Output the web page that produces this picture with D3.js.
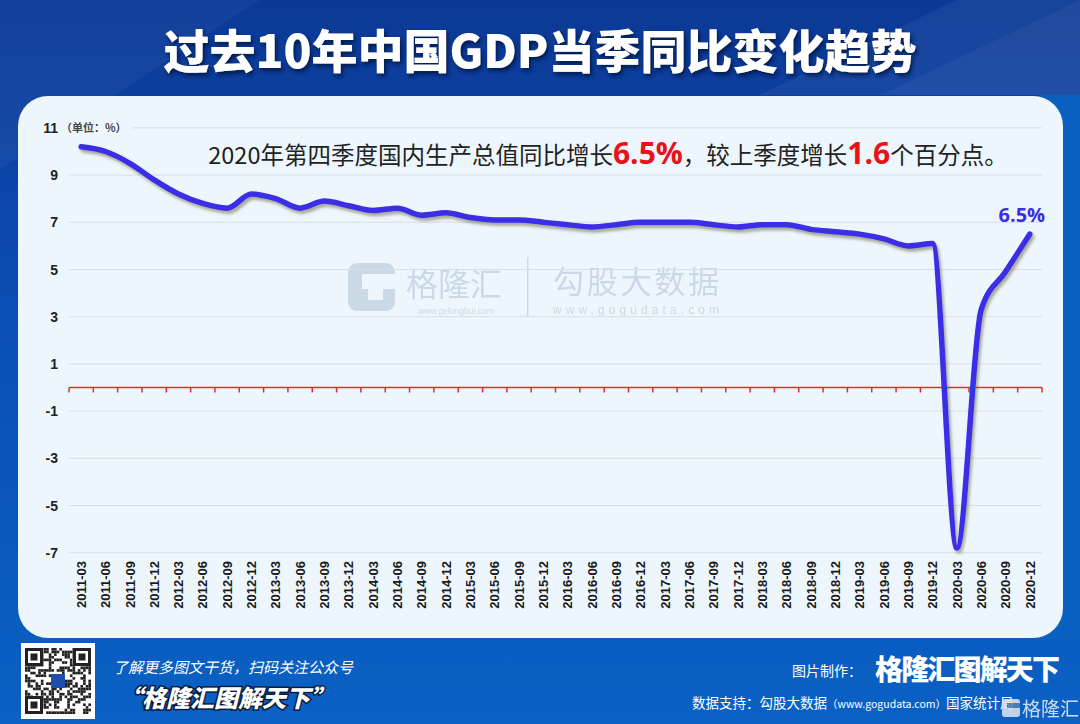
<!DOCTYPE html>
<html><head><meta charset="utf-8">
<script src="https://cdn.jsdelivr.net/npm/d3@7"></script>
<style>body{margin:0;background:#0a57b8;} svg{display:block}</style>
</head><body>
<svg id="c" width="1080" height="724"></svg>
<script>
// ---- data ----
const categories = [
 "2011-03","2011-06","2011-09","2011-12","2012-03","2012-06","2012-09","2012-12",
 "2013-03","2013-06","2013-09","2013-12","2014-03","2014-06","2014-09","2014-12",
 "2015-03","2015-06","2015-09","2015-12","2016-03","2016-06","2016-09","2016-12",
 "2017-03","2017-06","2017-09","2017-12","2018-03","2018-06","2018-09","2018-12",
 "2019-03","2019-06","2019-09","2019-12","2020-03","2020-06","2020-09","2020-12"];
const gdpValues = [
 10.2,10.0,9.5,8.8, 8.2,7.8,7.6,8.2,
 8.0,7.6,7.9,7.7, 7.5,7.6,7.3,7.4,
 7.2,7.1,7.1,7.0, 6.9,6.8,6.9,7.0,
 7.0,7.0,6.9,6.8, 6.9,6.9,6.7,6.6,
 6.5,6.3,6.0,6.1, -6.8,3.3,4.9,6.5];
const yTicks = [11,9,7,5,3,1,-1,-3,-5,-7];
const yDomain = [-7, 11];
const titleText = "过去10年中国GDP当季同比变化趋势";
const unitText = "（单位：%）";
const subtitleParts = [
 {t:"2020年第四季度国内生产总值同比增长", red:false},
 {t:"6.5%", red:true},
 {t:"，较上季度增长", red:false},
 {t:"1.6", red:true},
 {t:"个百分点。", red:false}];
const lastLabel = "6.5%";

const svg = d3.select("#c");
const W = 1080, H = 724;
const CJK = "'Noto Sans CJK SC','Noto Sans',sans-serif";
const ARIAL = "'Liberation Sans',Arial,sans-serif";

// ---- defs ----
const defs = svg.append("defs");
const bg = defs.append("linearGradient").attr("id","bg").attr("x1",0).attr("y1",0).attr("x2",0).attr("y2",1);
[[0,"#0b3995"],[0.13,"#0c3f9e"],[0.45,"#0b4fb6"],[1,"#0a61c3"]].forEach(s=>bg.append("stop").attr("offset",s[0]).attr("stop-color",s[1]));
const f1 = defs.append("filter").attr("id","ls").attr("x","-5%").attr("y","-5%").attr("width","110%").attr("height","110%");
f1.append("feDropShadow").attr("dx",2).attr("dy",3).attr("stdDeviation",1.6).attr("flood-color","#6b6a3c").attr("flood-opacity",0.55);
const f2 = defs.append("filter").attr("id","ts");
f2.append("feDropShadow").attr("dx",2).attr("dy",3).attr("stdDeviation",2).attr("flood-color","#001445").attr("flood-opacity",0.9);

// ---- background ----
svg.append("rect").attr("width",W).attr("height",H).attr("fill","url(#bg)");
svg.append("path").attr("d","M0,0 L260,0 L0,170 Z").attr("fill","#ffffff").attr("opacity",0.04);
svg.append("path").attr("d","M760,95 L1080,-60 L1080,95 Z").attr("fill","#ffffff").attr("opacity",0.05);
svg.append("path").attr("d","M880,95 L1080,0 L1080,95 Z").attr("fill","#ffffff").attr("opacity",0.04);
svg.append("rect").attr("x",1040).attr("y",95).attr("width",40).attr("height",545).attr("fill","#0a5fc0");

// title
svg.append("text").attr("x",540).attr("y",68).attr("text-anchor","middle")
  .attr("font-family",CJK).attr("font-weight",900).attr("font-size",46)
  .attr("fill","#ffffff").attr("filter","url(#ts)").text(titleText);

// panel
svg.append("rect").attr("x",18).attr("y",96).attr("width",1045).attr("height",542).attr("rx",30)
  .attr("fill","#eef6fd");

// ---- scales ----
const x = d3.scaleBand().domain(categories).range([69,1042]).padding(0);
const y = d3.scaleLinear().domain(yDomain).range([552.7,127.9]);
const cx = c => x(c) + x.bandwidth()/2;

// watermark
const wm = svg.append("g").attr("fill","#c6d3e3").attr("opacity",0.85);
wm.append("rect").attr("x",348).attr("y",263).attr("width",47).attr("height",48).attr("rx",9);
wm.append("path").attr("d","M362,274 L395,274 L395,289 L362,289 Z").attr("fill","#eef6fd");
wm.append("path").attr("d","M368,289 L383,289 L383,300 L368,300 Z").attr("fill","#eef6fd");
wm.append("text").attr("x",406).attr("y",296).attr("font-family",CJK).attr("font-size",32).text("格隆汇");
wm.append("text").attr("x",456).attr("y",314).attr("text-anchor","middle").attr("font-family",ARIAL).attr("font-size",8.5).text("www.gelonghui.com");
wm.append("rect").attr("x",527).attr("y",257).attr("width",1.5).attr("height",60);
wm.append("text").attr("x",553).attr("y",293).attr("font-family",CJK).attr("font-size",31).attr("textLength",166).text("勾股大数据");
wm.append("text").attr("x",553).attr("y",314).attr("font-family",ARIAL).attr("font-size",12).attr("textLength",166).text("www.gogudata.com");

// gridlines
svg.append("g").selectAll("line").data(yTicks).join("line")
  .attr("x1",69).attr("x2",1042).attr("y1",d=>y(d)).attr("y2",d=>y(d))
  .attr("stroke","#dadde2").attr("stroke-width",1);

// y labels
svg.append("g").selectAll("text").data(yTicks).join("text")
  .attr("x",58).attr("y",d=>y(d)+5).attr("text-anchor","end")
  .attr("font-family",ARIAL).attr("font-weight","bold").attr("font-size",14).attr("fill","#222")
  .text(d=>String(d));
svg.append("rect").attr("x",60).attr("y",y(11)-8).attr("width",72).attr("height",16).attr("fill","#eef6fd");
svg.append("text").attr("x",61).attr("y",y(11)+4).attr("font-family",CJK).attr("font-weight","bold")
  .attr("font-size",11).attr("fill","#444").text(unitText);

// zero line with ticks at band boundaries
const z = svg.append("g").attr("stroke","#ea2a2a").attr("stroke-width",1.5);
z.append("line").attr("x1",69).attr("x2",1042).attr("y1",y(0)).attr("y2",y(0));
const bounds = categories.map(c=>x(c)).concat([x.range()[1]]);
z.selectAll("line.t").data(bounds).join("line").attr("class","t")
  .attr("x1",d=>d).attr("x2",d=>d).attr("y1",y(0)).attr("y2",y(0)+5);

// x labels
svg.append("g").selectAll("text").data(categories).join("text")
  .attr("transform",d=>`translate(${cx(d)},561) rotate(-90)`)
  .attr("dy","0.36em").attr("text-anchor","end")
  .attr("font-family",ARIAL).attr("font-weight","bold").attr("font-size",13).attr("fill","#1a1a1a")
  .text(d=>d);

// line
const data = categories.map((c,i)=>({c, v:gdpValues[i]}));
const line = d3.line().x(d=>cx(d.c)).y(d=>y(d.v)).curve(d3.curveMonotoneX);
svg.append("path").datum(data).attr("d",line).attr("fill","none")
  .attr("stroke","#3b2de6").attr("stroke-width",5.5).attr("stroke-linecap","round").attr("stroke-linejoin","round")
  .attr("filter","url(#ls)");

// last value label
const last = data[data.length-1];
svg.append("text").attr("x",cx(last.c)-8).attr("y",y(last.v)-12).attr("text-anchor","middle")
  .attr("font-family","'Open Sans','Noto Sans',sans-serif").attr("font-weight","bold").attr("font-size",20)
  .attr("fill","#3b2de6").text(lastLabel);

// subtitle
const st = svg.append("text").attr("x",608).attr("y",164).attr("text-anchor","middle")
  .attr("font-family",CJK).attr("font-size",23.5).attr("fill","#222");
subtitleParts.forEach(p=>{
  const ts = st.append("tspan").text(p.t);
  if(p.red) ts.attr("fill","#e81218").attr("font-size",30).attr("font-weight","bold").attr("font-family","'Open Sans','Noto Sans',sans-serif");
});

// ---- footer ----
const qr = svg.append("g").attr("transform","translate(21,643)");
qr.append("rect").attr("width",74).attr("height",76).attr("fill","#fff");
const qrText = "格隆汇图解天下了解更多图文干货扫码关注公众号";
let h = 7;
for(let r=0;r<25;r++){for(let c=0;c<25;c++){
  h = (h*31 + qrText.charCodeAt((r*25+c)%qrText.length) + r*7 + c*13) % 9973;
  if(h%2===0) qr.append("rect").attr("x",4+c*2.64).attr("y",5+r*2.64).attr("width",2.64).attr("height",2.64).attr("fill","#222");
}}
[[4,5],[52,5],[4,53]].forEach(p=>{
  qr.append("rect").attr("x",p[0]).attr("y",p[1]).attr("width",18).attr("height",18).attr("fill","#fff");
  qr.append("rect").attr("x",p[0]+1.5).attr("y",p[1]+1.5).attr("width",15).attr("height",15).attr("fill","none").attr("stroke","#222").attr("stroke-width",3);
  qr.append("rect").attr("x",p[0]+5.5).attr("y",p[1]+5.5).attr("width",7).attr("height",7).attr("fill","#222");
});
qr.append("rect").attr("x",30).attr("y",31).attr("width",14).attr("height",14).attr("fill","#1d4fb0");

svg.append("text").attr("x",113).attr("y",673).attr("font-family",CJK).attr("font-size",15)
  .attr("font-style","italic").attr("fill","#fff").text("了解更多图文干货，扫码关注公众号");
svg.append("text").attr("x",118).attr("y",707).attr("font-family",CJK).attr("font-size",24).attr("font-weight",900)
  .attr("font-style","italic").attr("fill","#fff").attr("stroke","#0a1a3a").attr("stroke-width",3)
  .attr("paint-order","stroke").text("“格隆汇图解天下”");
svg.append("text").attr("x",792).attr("y",676).attr("font-family",CJK).attr("font-size",14)
  .attr("fill","#fff").text("图片制作：");
svg.append("text").attr("x",875).attr("y",680).attr("font-family",CJK).attr("font-size",28).attr("font-weight",900)
  .attr("fill","#fff").attr("textLength",185).text("格隆汇图解天下");
const src = svg.append("text").attr("x",692).attr("y",708).attr("font-family",CJK).attr("font-size",13.5).attr("fill","#fff");
src.append("tspan").text("数据支持：勾股大数据");
src.append("tspan").attr("font-size",10.5).text("（www.gogudata.com）");
src.append("tspan").text("国家统计局");
const wl = svg.append("g").attr("opacity",0.85);
wl.append("rect").attr("x",1002).attr("y",699).attr("width",18).attr("height",18).attr("rx",3).attr("fill","#dfe6f0");
wl.append("rect").attr("x",1007).attr("y",703).attr("width",13).attr("height",5).attr("fill","#5b7fb8");
wl.append("text").attr("x",1022).attr("y",716).attr("font-family",CJK).attr("font-size",19).attr("fill","#eef2f8").text("格隆汇");
</script>
</body></html>
